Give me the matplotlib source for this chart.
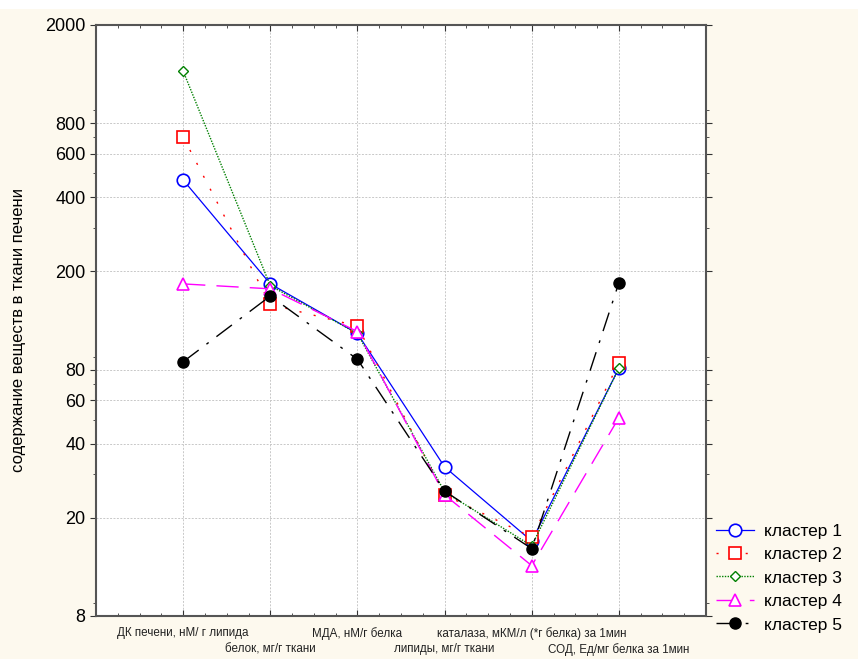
import matplotlib
matplotlib.use("Agg")
import matplotlib.pyplot as plt
import matplotlib.ticker as mticker
from matplotlib.patches import Rectangle

plt.rcParams['font.family'] = ['Liberation Sans', 'DejaVu Sans']

# === Data ===
categories = ["ДК печени, нМ/ г липида", "белок, мг/г ткани", "МДА, нМ/г белка",
              "липиды, мг/г ткани", "каталаза, мКМ/л (*г белка) за 1мин",
              "СОД, Ед/мг белка за 1мин"]

cluster1 = [470, 178, 112, 32.2, 16.1, 81]
cluster2 = [702, 147, 120, 24.8, 16.7, 85]
cluster3 = [1300, 175, 112, 25.5, 15.4, 81]
cluster4 = [178, 170, 114, 24.8, 12.8, 51]
cluster5 = [86, 159, 88, 25.7, 15.0, 180]

series_names = ["кластер 1", "кластер 2", "кластер 3", "кластер 4", "кластер 5"]
y_ticks = [8, 20, 40, 60, 80, 200, 400, 600, 800, 2000]

# === Styling ===
styles = [
    dict(color='blue', linestyle='-', lw=0.9, marker='o', ms=9, mfc='white', mew=1.2),
    dict(color='red', linestyle=(0, (1.5, 9)), lw=1.0, marker='s', ms=9, mfc='white', mew=1.2),
    dict(color='green', linestyle=(0, (1, 1)), lw=1.0, marker='D', ms=5, mfc='white', mew=1.0),
    dict(color='magenta', linestyle=(0, (16, 8)), lw=1.0, marker='^', ms=9, mfc='white', mew=1.2),
    dict(color='black', linestyle=(0, (14, 7, 2, 7)), lw=1.0, marker='o', ms=8, mfc='black', mew=1.0),
]

fig = plt.figure(figsize=(8.58, 6.59), dpi=100)
fig.patch.set_facecolor('#FDF9EE')
fig.patches.append(Rectangle((0, 0.986), 1, 0.014, transform=fig.transFigure,
                             facecolor='white', edgecolor='none', zorder=0))

ax = fig.add_axes([0.1119, 0.0653, 0.7110, 0.8968])
ax.set_facecolor('white')

x = list(range(1, len(categories) + 1))
for vals, name, st in zip([cluster1, cluster2, cluster3, cluster4, cluster5], series_names, styles):
    ax.plot(x, vals, label=name, **st)

ax.set_yscale('log')
ax.set_ylim(8, 2000)
ax.set_xlim(0, 7)
ax.yaxis.set_major_locator(mticker.FixedLocator(y_ticks))
ax.yaxis.set_major_formatter(mticker.FixedFormatter([str(v) for v in y_ticks]))
ax.yaxis.set_minor_locator(mticker.LogLocator(base=10, subs=range(2, 10), numticks=20))
ax.yaxis.set_minor_formatter(mticker.NullFormatter())

ax.set_xticks(x)
ax.set_xticklabels([])
ax.xaxis.set_minor_locator(mticker.MultipleLocator(0.25))

ax.grid(True, which='major', color='#c8c8c8', linestyle=(0, (2, 1.5)), lw=0.7)

for s in ax.spines.values():
    s.set_color('#555555')
    s.set_linewidth(1.5)

ax.tick_params(axis='y', which='both', direction='out', labelsize=13, right=True, color='#333333')
ax.tick_params(axis='y', which='major', length=4)
ax.tick_params(axis='y', which='minor', length=2.5)
ax.tick_params(axis='x', which='both', direction='in', top=True, color='#333333')
ax.tick_params(axis='x', which='major', length=4)
ax.tick_params(axis='x', which='minor', length=2.5)

# staggered category labels
for i, lab in enumerate(categories):
    yoff = -0.029 if i % 2 == 0 else -0.056
    ax.text(x[i], yoff, lab, transform=ax.get_xaxis_transform(), ha='center', va='center',
            fontsize=8.4, color='#222222')

fig.text(0.021, 0.50, "содержание веществ в ткани печени", rotation=90,
         ha='center', va='center', fontsize=12)

ax.legend(loc='upper left', bbox_to_anchor=(0.99, 0.183), frameon=False, fontsize=12.5,
          handlelength=2.2, labelspacing=0.48, handletextpad=0.6)

fig.savefig("out.png", dpi=100, facecolor=fig.get_facecolor())
